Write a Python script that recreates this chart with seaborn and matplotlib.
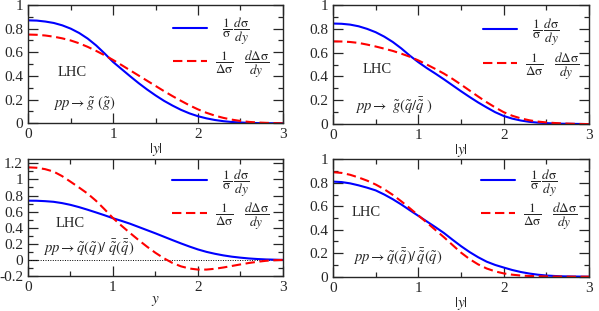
import numpy as np
import pandas as pd
import matplotlib
matplotlib.use("Agg")
import matplotlib.pyplot as plt
from matplotlib.ticker import MultipleLocator
import seaborn as sns

# ---------------- data ----------------
y_grid = [0.0, 0.1, 0.2, 0.3, 0.4, 0.5, 0.6, 0.7, 0.8, 0.9, 1.0,
          1.1, 1.2, 1.3, 1.4, 1.5, 1.6, 1.7, 1.8, 1.9, 2.0,
          2.1, 2.2, 2.3, 2.4, 2.5, 2.6, 2.7, 2.8, 2.9, 3.0]

# panel 1: pp -> gluino (gluino)
p1_unpol = [0.870, 0.868, 0.860, 0.848, 0.828, 0.800, 0.763, 0.716, 0.658, 0.590, 0.518,
            0.458, 0.398, 0.340, 0.286, 0.236, 0.190, 0.150, 0.114, 0.084, 0.060,
            0.042, 0.028, 0.018, 0.011, 0.007, 0.004, 0.002, 0.001, 0.0005, 0.0]
p1_pol = [0.750, 0.748, 0.742, 0.732, 0.718, 0.700, 0.676, 0.646, 0.612, 0.575, 0.535,
          0.492, 0.448, 0.404, 0.360, 0.316, 0.272, 0.230, 0.190, 0.152, 0.118,
          0.089, 0.065, 0.046, 0.031, 0.020, 0.012, 0.007, 0.004, 0.002, 0.0]

# panel 2: pp -> gluino (squark / antisquark)
p2_unpol = [0.845, 0.843, 0.836, 0.822, 0.800, 0.772, 0.735, 0.690, 0.636, 0.575, 0.520,
            0.470, 0.424, 0.376, 0.326, 0.276, 0.228, 0.182, 0.140, 0.100, 0.068,
            0.046, 0.030, 0.019, 0.012, 0.008, 0.005, 0.003, 0.002, 0.001, 0.0]
p2_pol = [0.695, 0.694, 0.690, 0.682, 0.668, 0.652, 0.634, 0.615, 0.592, 0.566, 0.535,
          0.500, 0.463, 0.424, 0.380, 0.332, 0.282, 0.232, 0.184, 0.140, 0.100,
          0.070, 0.048, 0.032, 0.021, 0.014, 0.009, 0.005, 0.003, 0.001, 0.0]

# panel 3: pp -> squark(squark) / antisquark(antisquark)
p3_unpol = [0.736, 0.735, 0.730, 0.722, 0.706, 0.684, 0.656, 0.624, 0.590, 0.555, 0.518,
            0.485, 0.450, 0.410, 0.370, 0.330, 0.288, 0.246, 0.205, 0.166, 0.130,
            0.100, 0.076, 0.056, 0.040, 0.028, 0.018, 0.011, 0.006, 0.003, 0.0]
p3_pol = [1.150, 1.145, 1.128, 1.098, 1.042, 0.972, 0.900, 0.825, 0.735, 0.630, 0.520,
          0.425, 0.335, 0.248, 0.165, 0.088, 0.020, -0.038, -0.080, -0.107, -0.120,
          -0.120, -0.110, -0.094, -0.075, -0.056, -0.038, -0.023, -0.011, -0.004, 0.0]

# panel 4: pp -> squark(antisquark) / antisquark(squark)
p4_unpol = [0.810, 0.806, 0.795, 0.778, 0.758, 0.735, 0.700, 0.660, 0.615, 0.566, 0.518,
            0.470, 0.422, 0.372, 0.315, 0.260, 0.210, 0.166, 0.128, 0.100, 0.078,
            0.057, 0.040, 0.027, 0.017, 0.010, 0.006, 0.003, 0.002, 0.001, 0.0]
p4_pol = [0.890, 0.884, 0.868, 0.845, 0.818, 0.785, 0.745, 0.697, 0.642, 0.583, 0.522,
          0.460, 0.398, 0.336, 0.270, 0.205, 0.150, 0.105, 0.070, 0.045, 0.028,
          0.017, 0.010, 0.006, 0.004, 0.002, 0.001, 0.0005, 0.0, 0.0, 0.0]

process_labels = [
    r"$pp \rightarrow \tilde{g}\ (\tilde{g})$",
    r"$pp \rightarrow\ \tilde{g}(\tilde{q}/\bar{\tilde{q}}\ )$",
    r"$pp \rightarrow \tilde{q}(\tilde{q})/\ \bar{\tilde{q}}(\bar{\tilde{q}})$",
    r"$pp \rightarrow \tilde{q}(\bar{\tilde{q}})/\,\bar{\tilde{q}}(\tilde{q})$",
]
xlabels = [r"$|y|$", r"$|y|$", r"$y$", r"$|y|$"]
ylims = [(0, 1), (0, 1), (-0.2, 1.25), (0, 1)]
leg_unpol = r"$\;\;\;\dfrac{1}{\mathrm{\sigma}}\,\dfrac{d\mathrm{\sigma}}{dy}$"
leg_pol = r"$\dfrac{1}{\Delta\mathrm{\sigma}}\;\;\;\;\dfrac{d\Delta\mathrm{\sigma}}{dy}$"

# ---------------- style ----------------
sns.set_style("ticks")
plt.rcParams["font.family"] = ["Liberation Serif", "DejaVu Serif"]
plt.rcParams["mathtext.fontset"] = "stix"
plt.rcParams["axes.linewidth"] = 1.0
plt.rcParams["xtick.direction"] = "in"
plt.rcParams["ytick.direction"] = "in"

fig = plt.figure(figsize=(5.99, 3.11), dpi=100)
positions = [
    [0.0473, 0.6035, 0.4247, 0.3805],
    [0.556, 0.601, 0.4274, 0.3826],
    [0.0467, 0.1125, 0.4257, 0.3753],
    [0.556, 0.1103, 0.4274, 0.3775],
]
unpol = [p1_unpol, p2_unpol, p3_unpol, p4_unpol]
pol = [p1_pol, p2_pol, p3_pol, p4_pol]
lhc_pos = [(0.35, 0.43), (0.35, 0.46), (0.32, 0.45), (0.22, 0.55)]
proc_pos = [(0.29, 0.17), (0.26, 0.15), (0.18, 0.145), (0.23, 0.165)]
leg_anchor = [(0.546, 0.955), (0.565, 0.945), (0.546, 0.975), (0.556, 0.975)]

for i in range(4):
    ax = fig.add_axes(positions[i])
    df = pd.DataFrame({"y": y_grid, "unpol": unpol[i], "pol": pol[i]})
    if i == 2:
        ax.axhline(0, color="black", lw=0.7, ls=(0, (1, 1.5)), zorder=1)
    sns.lineplot(data=df, x="y", y="unpol", ax=ax, color="#0000ff", lw=1.5,
                 label=leg_unpol)
    sns.lineplot(data=df, x="y", y="pol", ax=ax, color="#ff0000", lw=1.5,
                 linestyle=(0, (4.5, 2.2)), label=leg_pol)
    ax.set_xlim(0, 3)
    ax.set_ylim(*ylims[i])
    ax.xaxis.set_major_locator(MultipleLocator(1))
    ax.xaxis.set_minor_locator(MultipleLocator(0.5))
    ax.yaxis.set_major_locator(MultipleLocator(0.2))
    ax.yaxis.set_minor_locator(MultipleLocator(0.1))
    ax.tick_params(which="both", top=True, right=True, labelsize=11, width=0.9)
    ax.tick_params(which="major", length=7)
    ax.tick_params(which="minor", length=3.5)
    ax.set_yticklabels([("%g" % t) for t in ax.get_yticks()])
    ax.set_xlabel(xlabels[i], fontsize=11, labelpad=0)
    ax.set_ylabel("")
    ax.text(*lhc_pos[i], "LHC", fontsize=10.5, ha="left", va="center")
    ax.text(*proc_pos[i], process_labels[i], fontsize=10.5, ha="left", va="center")
    ax.legend(loc="upper left", bbox_to_anchor=leg_anchor[i], frameon=False,
              fontsize=9.5, handlelength=2.6, labelspacing=0.2,
              handletextpad=0.6, borderaxespad=0.0)

fig.savefig("out.png", dpi=100)
